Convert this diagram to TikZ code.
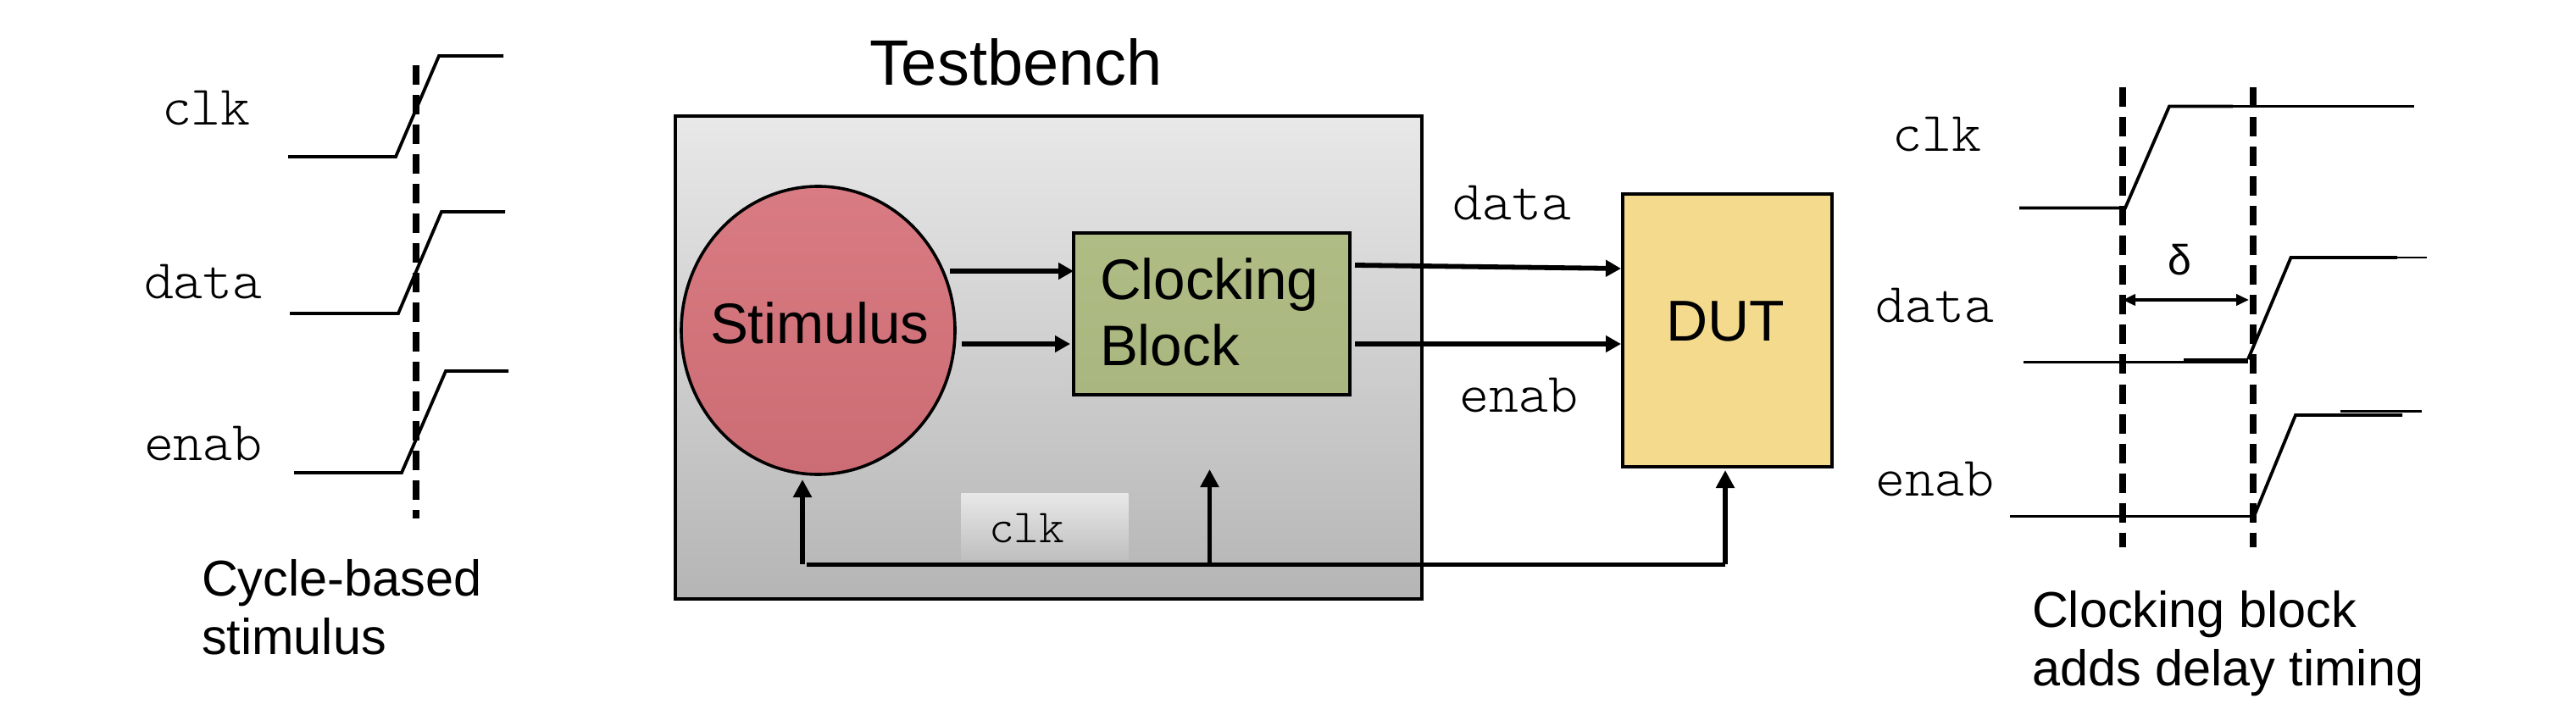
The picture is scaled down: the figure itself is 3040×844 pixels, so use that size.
\documentclass[tikz,border=0pt]{standalone}
\usepackage{fontspec}
\setmainfont{Liberation Sans}
\newfontfamily\lightmono{Latin Modern Mono Light}[FakeStretch=1.01]
\usetikzlibrary{arrows.meta,calc,shapes.geometric}
\definecolor{inkk}{HTML}{000000}
\definecolor{stimtop}{HTML}{D97B82}
\definecolor{stimbot}{HTML}{CC6C74}
\definecolor{cbtop}{HTML}{AFBD85}
\definecolor{cbbot}{HTML}{A9B67F}
\definecolor{dutfill}{HTML}{F4DA8C}
\tikzset{
  wave/.style={line width=1.9pt,line join=miter,inkk},
  thin wave/.style={line width=1.3pt,inkk},
  thick wave/.style={line width=2.3pt,inkk},
  sync/.style={line width=3.8pt,inkk,dash pattern=on 11.5pt off 6pt},
  sig/.style={line width=2.9pt,inkk,-{Triangle[length=9pt,width=9.5pt]}},
  clkarrow/.style={line width=2.6pt,inkk,-{Triangle[length=10.5pt,width=10.5pt]}},
  spanarrow/.style={line width=2.2pt,inkk,{Triangle[length=7.5pt,width=6.5pt]}-{Triangle[length=7.5pt,width=6.5pt]}},
  boxed/.style={draw=inkk,line width=1.8pt,inner sep=0pt,outer sep=0pt},
  txt/.style={inner sep=0pt,outer sep=0pt,anchor=base west,text=black},
  mono/.style={txt,font=\fontsize{33}{38}\lightmono\selectfont},
  smallmono/.style={txt,font=\fontsize{28}{32}\lightmono\selectfont},
  captext/.style={txt,align=left,font=\fontsize{29.7}{34.5}\selectfont},
  blocktext/.style={txt,align=left,font=\fontsize{33.7}{39}\selectfont},
}
\begin{document}
\begin{tikzpicture}[x=0.5pt,y=-0.5pt]
\useasboundingbox (0,0) rectangle (3040,844);

% ---- left timing
\node[mono] (lclk) at (191,148) {clk};
\node[mono] (ldata) at (170,353) {data};
\node[mono] (lenab) at (170,543) {enab};
\draw[wave] (340,185) -- (467,185) -- (518,66) -- (594,66);
\draw[wave] (342,370) -- (470,370) -- (521,250) -- (596,250);
\draw[wave] (347,558) -- (474,558) -- (526,438) -- (600,438);
\draw[sync] (491,77) -- (491,612);
\node[captext,anchor=north west] (lcap) at (238,660) {Cycle-based\\stimulus};

% ---- testbench
\node[txt,font=\fontsize{37.9}{42}\selectfont] (title) at (1026,101) {Testbench};
\node[boxed,rectangle,anchor=north west,
      top color=white!91!black,bottom color=white!71!black,
      minimum width=440.5pt,minimum height=285pt] (tb) at (797,137) {};
\node[rectangle,inner sep=0pt,anchor=north west,minimum width=98.5pt,minimum height=39pt,
      top color=white!91!black,bottom color=white!75!black] (patch) at (1134,582) {};
\node[smallmono] (pclk) at (1167,640) {clk};
\node[boxed,ellipse,minimum width=161.5pt,minimum height=170pt,
      top color=stimtop,bottom color=stimbot] (stim) at (965.5,390) {};
\node[blocktext] (stimt) at (838,406) {Stimulus};
\node[boxed,rectangle,anchor=north west,minimum width=163pt,minimum height=95.5pt,
      top color=cbtop,bottom color=cbbot] (cb) at (1267,275) {};
\node[blocktext,anchor=north west] (cbt) at (1298,305) {Clocking\\Block};
\node[boxed,rectangle,anchor=north west,minimum width=123.5pt,minimum height=161pt,
      fill=dutfill] (dut) at (1915,229) {};
\node[txt,font=\fontsize{34}{38}\selectfont] (dutt) at (1966,402) {DUT};

\coordinate (s1) at (1121,320);
\coordinate (s2) at (1135,406);
\draw[sig] (s1) -- (s1 -| cb.west);
\draw[sig] (s2) -- ($(s2 -| cb.west)+(-4,0)$);
\coordinate (d1) at (1599,313);
\coordinate (d2) at (1913,317);
\coordinate (e1) at (1599,406);
\draw[sig] (d1) -- (d2);
\draw[sig] (e1) -- ($(e1 -| dut.west)+(-2,0)$);
\node[mono] (mdata) at (1714,260) {data};
\node[mono] (menab) at (1722,486) {enab};

\coordinate (busL) at (952,666);
\coordinate (busJ) at (1427.5,666);
\coordinate (busR) at (2036,666);
\coordinate (upS) at (947,666);
\draw[wave,line width=2.5pt] (busL) -- (busR);
\draw[clkarrow] (upS) -- ($(upS |- stim.south)+(0,6)$);
\draw[clkarrow] ($(busJ)+(0,3)$) -- (1427.5,554);
\draw[clkarrow] (busR) -- ($(busR |- dut.south)+(0,4)$);

% ---- right timing
\node[mono] (rclk) at (2233,178.5) {clk};
\node[mono] (rdata) at (2213,380.5) {data};
\node[mono] (renab) at (2213,585.5) {enab};
\draw[wave] (2383,245.5) -- (2508,245.5) -- (2560,125.5) -- (2635,125.5);
\draw[thin wave] (2635,125.5) -- (2849,125.5);
\draw[thin wave] (2387.5,427.5) -- (2653,427.5);
\draw[thick wave] (2577,425) -- (2653,425);
\draw[wave] (2653,424) -- (2703.5,304) -- (2829,304);
\draw[thin wave] (2829,304) -- (2864,304);
\draw[thin wave] (2372,609.5) -- (2660,609.5);
\draw[wave] (2660,609.5) -- (2709,490) -- (2835,490);
\draw[thin wave] (2761.5,485.5) -- (2857.5,485.5);
\coordinate (sa) at (2505,103.5);
\coordinate (sb) at (2659,103.5);
\draw[sync] (sa) -- (2505,646);
\draw[sync] (sb) -- (2659,646);
\coordinate (da) at (2505,354);
\coordinate (db) at (2654,354);
\draw[spanarrow] (da) -- (db);
\node[txt,font=\fontsize{25}{30}\selectfont] (delta) at (2558,325) {δ};
\node[captext,anchor=north west] (rcap) at (2398,697) {Clocking block\\adds delay timing};
\end{tikzpicture}
\end{document}
